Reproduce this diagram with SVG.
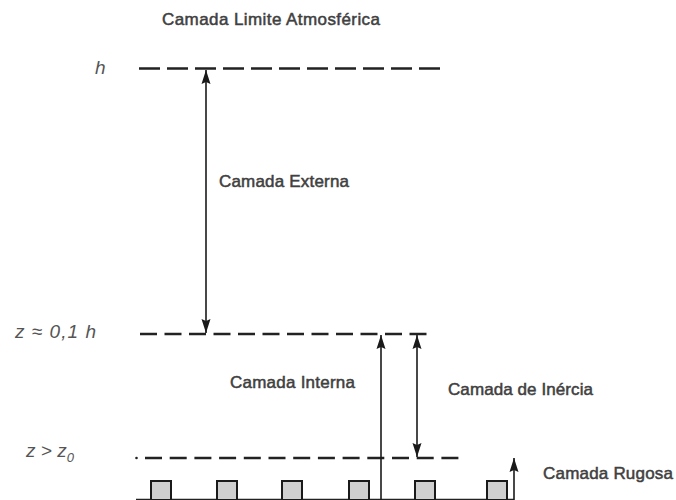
<svg xmlns="http://www.w3.org/2000/svg" width="676" height="500" viewBox="0 0 676 500">
  <defs>
    <marker id="ah" viewBox="0 0 14 10" refX="14" refY="5" markerWidth="14" markerHeight="10" markerUnits="userSpaceOnUse" orient="auto-start-reverse">
      <path d="M0,0.5 L14,5 L0,9.5 L2,5 Z" fill="#1a1a1a"/>
    </marker>
  </defs>
  <style>
    .lbl { font-family: "Liberation Sans", Arial, sans-serif; font-size: 17px; fill: #404040; stroke: #404040; stroke-width: 0.5; }
    .var { font-family: "Liberation Sans", Arial, sans-serif; font-size: 19px; font-style: italic; fill: #555; }
    .dash { stroke: #222; stroke-width: 2.4; fill: none; }
    .arr { stroke: #1a1a1a; stroke-width: 1.6; fill: none; }
    .box { fill: #cfcfcf; stroke: #1a1a1a; stroke-width: 2; }
  </style>
  <rect width="676" height="500" fill="#fff"/>

  <g id="title">
    <text class="lbl" x="162" y="25" textLength="218">Camada Limite Atmosférica</text>
  </g>

  <g id="level-h">
    <text class="var" x="95" y="74">h</text>
    <line class="dash" x1="139" y1="68.5" x2="444" y2="68.5" stroke-dasharray="21 7"/>
  </g>

  <g id="level-01h">
    <text class="var" x="15" y="338" textLength="81">z ≈ 0,1 h</text>
    <line class="dash" x1="140" y1="334" x2="433" y2="334" stroke-dasharray="17 7.5"/>
  </g>

  <g id="level-z0">
    <text class="var" x="26" y="457">z &gt; z<tspan font-size="13" dy="5">0</tspan></text>
    <circle cx="136.5" cy="458" r="1.3" fill="#222"/>
    <line class="dash" x1="145" y1="458" x2="466" y2="458" stroke-dasharray="17 7.7"/>
  </g>

  <g id="ground">
    <line x1="136" y1="499.5" x2="514" y2="499.5" stroke="#222" stroke-width="1.5"/>
    <rect class="box" x="151" y="481" width="20" height="19"/>
    <rect class="box" x="217" y="481" width="20" height="19"/>
    <rect class="box" x="282" y="481" width="20" height="19"/>
    <rect class="box" x="349" y="481" width="20" height="19"/>
    <rect class="box" x="415" y="481" width="20" height="19"/>
    <rect class="box" x="487" y="481" width="20" height="19"/>
  </g>

  <g id="connectors">
    <line class="arr" x1="206" y1="70" x2="206" y2="333" marker-start="url(#ah)" marker-end="url(#ah)"/>
    <line class="arr" x1="381" y1="500" x2="381" y2="335" marker-end="url(#ah)"/>
    <line class="arr" x1="417" y1="335" x2="417" y2="457" marker-start="url(#ah)" marker-end="url(#ah)"/>
    <line class="arr" x1="514" y1="500" x2="514" y2="458" marker-end="url(#ah)"/>
  </g>

  <g id="externa">
    <text class="lbl" x="219" y="187" textLength="130">Camada Externa</text>
  </g>
  <g id="interna">
    <text class="lbl" x="230" y="388" textLength="125">Camada Interna</text>
  </g>
  <g id="inercia">
    <text class="lbl" x="448" y="395" textLength="145">Camada de Inércia</text>
  </g>
  <g id="rugosa">
    <text class="lbl" x="543" y="479" textLength="130">Camada Rugosa</text>
  </g>
</svg>
